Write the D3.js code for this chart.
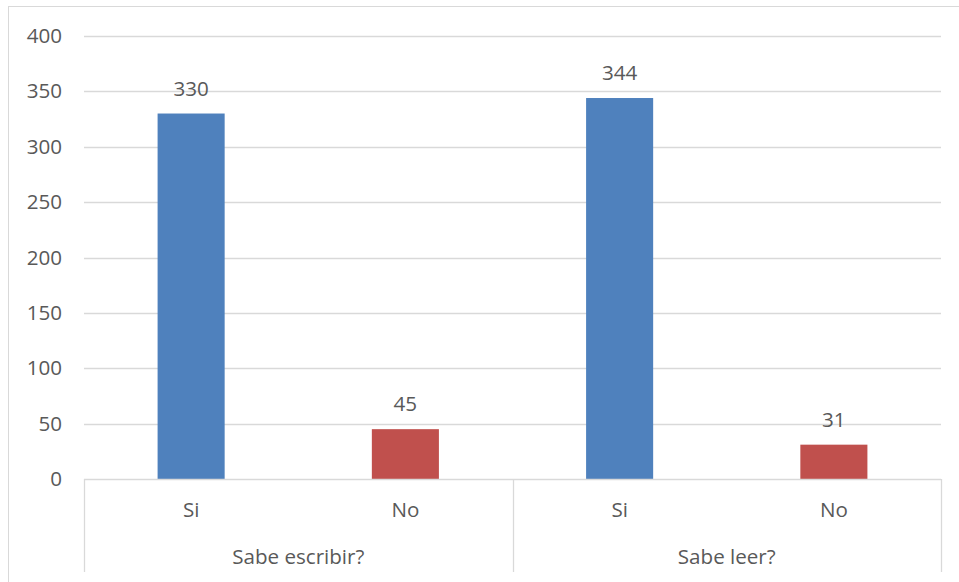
<!DOCTYPE html>
<html>
<head>
<meta charset="utf-8">
<script src="https://cdn.jsdelivr.net/npm/d3@7"></script>
<style>
  html, body { margin: 0; padding: 0; background: #fff; }
  svg { display: block; }
  text { font-family: "Open Sans", "Liberation Sans", sans-serif; fill: #595959; }
</style>
</head>
<body>
<svg id="chart" width="959" height="582"></svg>
<script>
// Survey answers: can the respondent write / read?
const groups = ["Sabe escribir?", "Sabe leer?"];
const answers = ["Si", "No"];
const escribirValues = [330, 45];
const leerValues = [344, 31];
const yTicks = [0, 50, 100, 150, 200, 250, 300, 350, 400];
const barColors = { "Si": "#4f81bd", "No": "#c0504d" };

const rows = [];
groups.forEach((g, gi) => {
  const vals = gi === 0 ? escribirValues : leerValues;
  answers.forEach((a, ai) => rows.push({ group: g, answer: a, value: vals[ai], key: g + "|" + a }));
});

const svg = d3.select("#chart");
const plotLeft = 84, plotRight = 941, plotTop = 36, plotBottom = 479;
const fontSize = 20.6;

// Chart frame (its right and bottom edges fall outside the view)
svg.append("rect")
  .attr("x", 8.5).attr("y", 6.5)
  .attr("width", 1000).attr("height", 1000)
  .attr("fill", "none").attr("stroke", "#d9d9d9").attr("stroke-width", 1);

const y = d3.scaleLinear().domain([0, 400]).range([plotBottom, plotTop]);
const x = d3.scaleBand().domain(rows.map(d => d.key)).range([plotLeft, plotRight]).paddingInner(0.687).paddingOuter(0.3435);
const xGroup = d3.scaleBand().domain(groups).range([plotLeft, plotRight]);

// Horizontal gridlines
svg.append("g").selectAll("line")
  .data(yTicks.filter(t => t > 0))
  .join("line")
  .attr("x1", plotLeft).attr("x2", plotRight)
  .attr("y1", d => Math.round(y(d)) + 0.5).attr("y2", d => Math.round(y(d)) + 0.5)
  .attr("stroke", "#d9d9d9").attr("stroke-width", 1.3);

// Value axis labels
const yAxis = svg.append("g")
  .attr("transform", `translate(${plotLeft},0)`)
  .call(d3.axisLeft(y).tickValues(yTicks).tickSize(0).tickPadding(22));
yAxis.select(".domain").remove();
yAxis.selectAll("text")
  .style("font-family", "'Open Sans', 'Liberation Sans', sans-serif")
  .style("font-size", fontSize + "px").attr("fill", "#595959");

// Bars
svg.append("g").selectAll("rect")
  .data(rows)
  .join("rect")
  .attr("x", d => x(d.key))
  .attr("width", x.bandwidth())
  .attr("y", d => y(d.value))
  .attr("height", d => y(0) - y(d.value))
  .attr("fill", d => barColors[d.answer]);

// Value labels
svg.append("g").selectAll("text")
  .data(rows)
  .join("text")
  .attr("x", d => x(d.key) + x.bandwidth() / 2)
  .attr("y", d => y(d.value) - 18)
  .attr("text-anchor", "middle")
  .style("font-size", fontSize + "px")
  .text(d => d.value);

// Category axis: baseline and group separators
const axisG = svg.append("g");
axisG.append("line")
  .attr("x1", plotLeft).attr("x2", plotRight)
  .attr("y1", plotBottom + 0.5).attr("y2", plotBottom + 0.5)
  .attr("stroke", "#d9d9d9").attr("stroke-width", 1.3);
const seps = groups.map(g => xGroup(g)).concat([plotRight]);
axisG.selectAll("line.sep")
  .data(seps)
  .join("line")
  .attr("class", "sep")
  .attr("x1", d => Math.round(d) + 0.5).attr("x2", d => Math.round(d) + 0.5)
  .attr("y1", plotBottom).attr("y2", 572)
  .attr("stroke", "#d9d9d9").attr("stroke-width", 1.3);

// Answer labels
axisG.selectAll("text.ans")
  .data(rows)
  .join("text")
  .attr("class", "ans")
  .attr("x", d => x(d.key) + x.bandwidth() / 2)
  .attr("y", 510)
  .attr("dy", "0.35em")
  .attr("text-anchor", "middle")
  .style("font-size", fontSize + "px")
  .text(d => d.answer);

// Group labels
axisG.selectAll("text.grp")
  .data(groups)
  .join("text")
  .attr("class", "grp")
  .attr("x", d => xGroup(d) + xGroup.bandwidth() / 2)
  .attr("y", 557)
  .attr("dy", "0.35em")
  .attr("text-anchor", "middle")
  .style("font-size", fontSize + "px")
  .text(d => d);
</script>
</body>
</html>
